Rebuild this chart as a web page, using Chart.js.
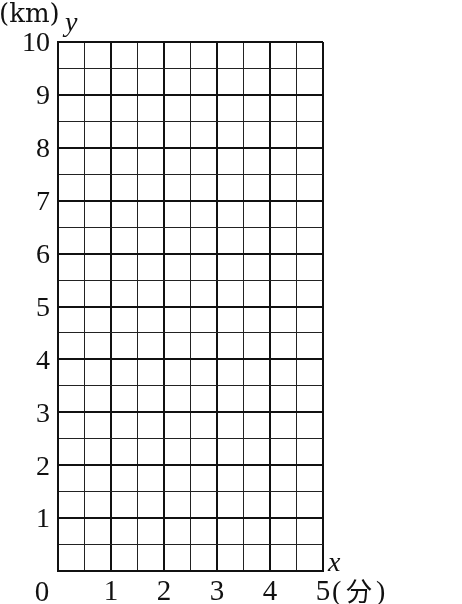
<!doctype html>
<html lang="ja">
<head>
<meta charset="utf-8">
<script src="https://cdn.jsdelivr.net/npm/chart.js"></script>
<style>
  html, body { margin: 0; padding: 0; background: #fff; }
  #wrap { width: 462px; height: 604px; }
</style>
</head>
<body>
<div id="wrap"><canvas id="grid-chart"></canvas></div>
<script>
// axis ranges and ticks
var xMin = 0, xMax = 5, xStep = 0.5;
var yMin = 0, yMax = 10, yStep = 0.5;
var xTickLabels = ['1', '2', '3', '4', '5'];
var yTickLabels = ['1', '2', '3', '4', '5', '6', '7', '8', '9', '10'];
var xUnit = ['(', '分', ')'];
var yUnit = '(km)';
var xName = 'x';
var yName = 'y';
var originLabel = '0';

var serif = '"Liberation Serif", "DejaVu Serif", serif';
var wideSerif = '"DejaVu Serif", serif';
var cjk = '"Noto Sans CJK JP", sans-serif';

function isMajor(v) { return Math.abs(v - Math.round(v)) < 1e-6; }

// extra texts: units, axis names, origin
var axisTexts = {
  id: 'axisTexts',
  afterDraw: function(chart) {
    var ctx = chart.ctx, a = chart.chartArea;
    ctx.save();
    ctx.fillStyle = '#111';
    ctx.textBaseline = 'alphabetic';
    ctx.textAlign = 'left';
    // (km) and y
    ctx.font = '26px ' + wideSerif;
    ctx.fillText(yUnit, -1, 22);
    ctx.font = 'italic 28px ' + serif;
    ctx.fillText(yName, 65, 31);
    // x name
    ctx.fillText(xName, a.right + 5, a.bottom);
    // origin
    ctx.font = '29px ' + serif;
    ctx.textAlign = 'center';
    ctx.fillText(originLabel, a.left - 16, 601);
    // (分) after the 5
    var x5 = chart.scales.x.getPixelForValue(xMax);
    ctx.textAlign = 'left';
    ctx.font = '28px ' + serif;
    ctx.fillText(xUnit[0], x5 + 9, 600);
    ctx.font = '26px ' + cjk;
    ctx.fillText(xUnit[1], x5 + 23, 601);
    ctx.font = '28px ' + serif;
    ctx.fillText(xUnit[2], x5 + 53, 600);
    ctx.restore();
  }
};

var gridChart = new Chart(document.getElementById('grid-chart'), {
  type: 'scatter',
  data: { datasets: [{ data: [], showLine: false }] },
  options: {
    responsive: true,
    maintainAspectRatio: false,
    animation: false,
    layout: { padding: { left: 0, top: 42, right: 139, bottom: 0 } },
    plugins: { legend: { display: false }, tooltip: { enabled: false } },
    scales: {
      x: {
        type: 'linear', min: xMin, max: xMax,
        afterFit: function(s) { s.height = 33; },
        afterBuildTicks: function(s) {
          var t = [];
          for (var v = xMin; v <= xMax + 1e-9; v += xStep) t.push({ value: +v.toFixed(2) });
          s.ticks = t;
        },
        border: { display: true, color: '#111', width: 2 },
        grid: {
          drawTicks: false,
          color: function(c) { return isMajor(c.tick.value) ? '#111' : '#222'; },
          lineWidth: function(c) { return isMajor(c.tick.value) ? 2 : 1; }
        },
        ticks: {
          autoSkip: false, maxRotation: 0, padding: 4,
          color: '#111',
          font: { family: serif, size: 29 },
          callback: function(v) {
            if (!isMajor(v) || v === 0) return '';
            return xTickLabels[Math.round(v) - 1];
          }
        }
      },
      y: {
        type: 'linear', min: yMin, max: yMax,
        afterFit: function(s) { s.width = 58; },
        afterBuildTicks: function(s) {
          var t = [];
          for (var v = yMin; v <= yMax + 1e-9; v += yStep) t.push({ value: +v.toFixed(2) });
          s.ticks = t;
        },
        border: { display: true, color: '#111', width: 2 },
        grid: {
          drawTicks: false,
          color: function(c) { return isMajor(c.tick.value) ? '#111' : '#222'; },
          lineWidth: function(c) { return isMajor(c.tick.value) ? 2 : 1; }
        },
        ticks: {
          autoSkip: false, padding: 8, labelOffset: 2,
          color: '#111',
          font: { family: serif, size: 28 },
          callback: function(v) {
            if (!isMajor(v) || v === 0) return '';
            return yTickLabels[Math.round(v) - 1];
          }
        }
      }
    }
  },
  plugins: [axisTexts]
});
</script>
</body>
</html>
